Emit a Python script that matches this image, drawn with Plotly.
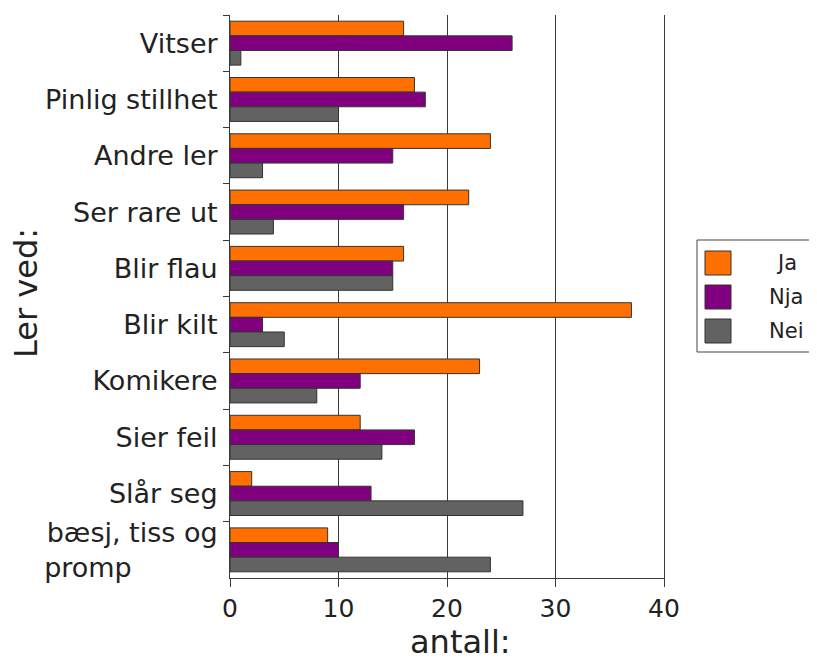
import plotly.graph_objects as go

categories = ["Vitser", "Pinlig stillhet", "Andre ler", "Ser rare ut", "Blir flau",
              "Blir kilt", "Komikere", "Sier feil", "Slår seg",
              "bæsj, tiss og<br>promp" + "\u00a0" * 10]
ja = [16, 17, 24, 22, 16, 37, 23, 12, 2, 9]
nja = [26, 18, 15, 16, 15, 3, 12, 17, 13, 10]
nei = [1, 10, 3, 4, 15, 5, 8, 14, 27, 24]
series_names = ["Ja", "Nja", "Nei"]
colors = ["#FF7000", "#800080", "#626262"]
x_ticks = [0, 10, 20, 30, 40]

# page body has an 8px margin; work in window pixels and convert
OFF = 8
WIN_W, WIN_H = 817, 661
W, H = WIN_W - OFF, WIN_H - OFF
PL, PR, PT, PB = 230, 664, 15, 578  # plot area in window pixels
L = PL - OFF
T = PT - OFF
R = W - (PR - OFF)
B = H - (PB - OFF)
FONT = "DejaVu Sans"
TXT = "#222222"
LINE = "#3a3a3a"

fig = go.Figure()
for name, vals, col in zip(series_names, [ja, nja, nei], colors):
    fig.add_trace(go.Bar(
        y=categories, x=vals, name=name, orientation="h",
        marker=dict(color=col, line=dict(color="#333333", width=1)),
        showlegend=False,
    ))

fig.update_layout(
    width=W, height=H,
    margin=dict(l=L, r=R, t=T, b=B, pad=0, autoexpand=False),
    paper_bgcolor="white", plot_bgcolor="white",
    barmode="group", bargap=0.22, bargroupgap=0,
    font=dict(family=FONT, color=TXT),
)
fig.update_xaxes(
    range=[0, 40], tickvals=x_ticks, ticktext=[str(v) for v in x_ticks],
    showgrid=True, gridcolor=LINE, gridwidth=1,
    showline=True, linecolor=LINE, linewidth=1,
    ticks="outside", ticklen=8, tickcolor=LINE,
    tickfont=dict(size=25, family=FONT, color=TXT),
    zeroline=False,
)
fig.update_yaxes(
    autorange="reversed",
    showgrid=False, showline=True, mirror=True, linecolor=LINE, linewidth=1,
    ticks="outside", ticklen=6, tickcolor=LINE, tickson="boundaries",
    ticklabelstandoff=6,
    tickfont=dict(size=27, family=FONT, color=TXT),
)

pw = PR - PL
ph = PB - PT
def px(xp):
    return (xp - PL) / pw
def py(yp):
    return (PB - yp) / ph

# axis titles
fig.add_annotation(xref="paper", yref="paper", x=px(460), y=py(642),
                   text="antall:", showarrow=False, xanchor="center", yanchor="middle",
                   font=dict(size=32, family=FONT, color=TXT))
fig.add_annotation(xref="paper", yref="paper", x=px(26), y=py(293),
                   text="Ler ved:", showarrow=False, textangle=-90,
                   xanchor="center", yanchor="middle",
                   font=dict(size=32, family=FONT, color=TXT))

# legend box (drawn manually to match the large swatches)
fig.add_shape(type="rect", xref="paper", yref="paper",
              x0=px(697), x1=px(815), y0=py(352), y1=py(240),
              line=dict(color="#444444", width=1), fillcolor="white")
centers = [263, 297, 331]
for name, col, cy in zip(series_names, colors, centers):
    fig.add_shape(type="rect", xref="paper", yref="paper",
                  x0=px(705), x1=px(731), y0=py(cy + 12), y1=py(cy - 12),
                  line=dict(color="#333333", width=1), fillcolor=col)
    fig.add_annotation(xref="paper", yref="paper", x=px(786), y=py(cy),
                       text=name, showarrow=False, xanchor="center", yanchor="middle",
                       font=dict(size=21, family=FONT, color=TXT))

fig.write_html("out.html")
